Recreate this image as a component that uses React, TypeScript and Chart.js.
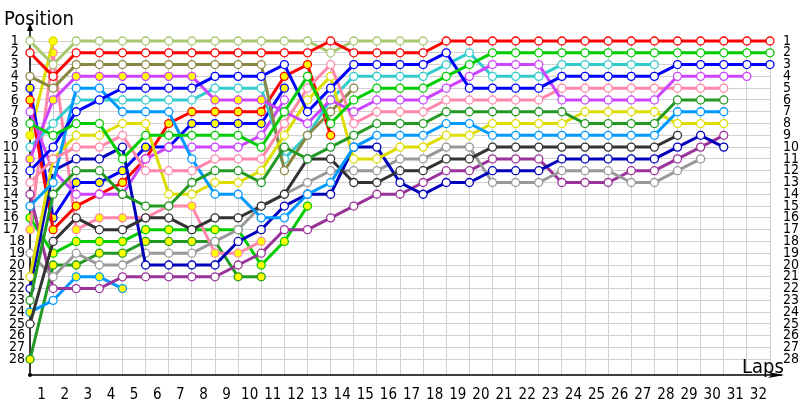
import React, { useEffect, useRef } from "react";
import { Chart, registerables } from "chart.js";
Chart.register(...registerables);

// ---- axis labels ----
const LAP_LABELS = ["1","2","3","4","5","6","7","8","9","10","11","12","13","14","15","16","17","18","19","20","21","22","23","24","25","26","27","28","29","30","31","32"];
const POSITION_LABELS = [1,2,3,4,5,6,7,8,9,10,11,12,13,14,15,16,17,18,19,20,21,22,23,24,25,26,27,28];

// ---- positions by lap (index 0 = grid, index n = after lap n) ----
const red = [2,4,2,2,2,2,2,2,2,2,2,2,2,1,2,2,2,2,1,1,1,1,1,1,1,1,1,1,1,1,1,1,1];
const green = [8,9,8,8,11,9,9,9,9,9,10,7,4,8,6,5,5,5,4,3,2,2,2,2,2,2,2,2,2,2,2,2,2];
const blue = [12,10,7,6,5,5,5,5,4,4,4,3,7,5,3,3,3,3,2,5,5,5,5,4,4,4,4,4,3,3,3,3,3];
const violet = [11,6,4,4,4,4,4,4,6,6,6,7,8,6,7,6,6,6,5,4,3,3,3,6,6,6,6,6,4,4,4,4];
const pink = [13,11,10,10,9,12,12,12,11,11,11,8,5,3,8,7,7,7,6,6,6,6,6,5,5,5,5,5,5,5,5];
const darkGreen = [23,14,12,12,14,15,15,13,12,12,13,10,11,10,9,8,8,8,7,7,7,7,7,7,8,8,8,8,6,6,6];
const lightBlue = [15,13,5,5,7,7,7,11,14,14,16,16,14,13,10,9,9,9,8,8,9,9,9,9,9,9,9,9,7,7,7];
const yellow = [21,11,9,9,8,8,14,14,13,13,12,9,6,4,11,11,10,10,9,9,8,8,8,8,7,7,7,7,8,8,8];
const black = [25,18,16,17,17,16,16,17,16,16,15,14,11,11,13,13,12,12,11,11,10,10,10,10,10,10,10,10,9];
const navy = [22,12,11,11,10,20,20,20,20,18,17,15,14,14,10,10,13,14,13,13,12,12,12,11,11,11,11,11,10,9,10];
const gray = [19,21,19,20,20,19,19,19,18,17,15,14,13,12,12,12,11,11,10,10,13,13,13,12,12,12,13,13,12,11];
const darkPurple = [14,22,22,22,21,21,21,21,21,20,19,17,17,16,15,14,14,13,12,12,11,11,11,13,13,13,12,12,11,10,9];
const lightGreen = [1,3,1,1,1,1,1,1,1,1,1,1,1,2,1,1,1,1];
const olive = [4,5,3,3,3,3,3,3,3,3,3,12,9,7,5];
const cyan = [10,8,6,6,6,6,6,6,5,5,5,11,9,6,4,4,4,4,3,2,4,4,4,3,3,3,3,3];
const violet2 = [7,12,14,14,14,11,10,10,10,10,9,6];
const red2 = [6,17,15,14,13,11,8,7,7,7,7,4,3,9];
const blue2 = [5,16,13,13,12,10,10,8,8,8,8,5];
const yellow2 = [9,1];
const pink2 = [17,2,17,16,16,16,15,15,19,19,18];
const green2 = [16,19,18,18,18,17,17,17,17,17,20,18,15];
const lightBlue2 = [24,23,21,21,22];
const darkGreen2 = [28,20,20,19,19,18,18,18,18,21,21];

// ---- laps drawn with a yellow marker ----
const violetYellow = [0,1,2,3,4,5,6,7,8,9,10];
const red2Yellow = [0,1,2,3,4,5,6,7,8,9,10,11,12,13];
const blue2Yellow = [0,1,2,3,4,5,6,7,8,9,10,11];
const yellow2Yellow = [0,1];
const pink2Yellow = [0,1,2,3,4,5,6,7,8,9,10];
const green2Yellow = [0,1,2,3,4,5,6,7,8,9,10,11,12];
const lightBlue2Yellow = [0,2,3,4];
const darkGreen2Yellow = [0,1,2,3,4,5,6,7,8,9,10];

const SERIES: [string, (number | null)[], number[]][] = [
  ["red", red, []],
  ["green", green, []],
  ["blue", blue, []],
  ["violet", violet, violetYellow],
  ["pink", pink, []],
  ["darkGreen", darkGreen, []],
  ["lightBlue", lightBlue, []],
  ["yellow", yellow, []],
  ["black", black, []],
  ["navy", navy, []],
  ["gray", gray, []],
  ["darkPurple", darkPurple, []],
  ["lightGreen", lightGreen, []],
  ["olive", olive, []],
  ["cyan", cyan, []],
  ["violet2", violet2, []],
  ["red2", red2, red2Yellow],
  ["blue2", blue2, blue2Yellow],
  ["yellow2", yellow2, yellow2Yellow],
  ["pink2", pink2, pink2Yellow],
  ["green2", green2, green2Yellow],
  ["lightBlue2", lightBlue2, lightBlue2Yellow],
  ["darkGreen2", darkGreen2, darkGreen2Yellow],
];

const COLORS: Record<string, string> = {
  red: "#ff0000",
  green: "#00cc00",
  blue: "#0000ff",
  violet: "#cc44ff",
  pink: "#ff88aa",
  darkGreen: "#229922",
  lightBlue: "#0099ff",
  yellow: "#dddd00",
  black: "#333333",
  navy: "#0000bb",
  gray: "#999999",
  darkPurple: "#993399",
  lightGreen: "#a8c870",
  olive: "#888844",
  cyan: "#33cccc",
  violet2: "#cc44ff",
  red2: "#ff0000",
  blue2: "#0000ff",
  yellow2: "#dddd00",
  pink2: "#ff88aa",
  green2: "#00cc00",
  lightBlue2: "#0099ff",
  darkGreen2: "#229922",
};

const FONT = '"DejaVu Sans Condensed", "Liberation Sans", sans-serif';

const decorations = {
  id: "decorations",
  beforeDatasetsDraw(chart: any) {
    const { ctx, chartArea: a } = chart;
    ctx.save();
    ctx.strokeStyle = "#000";
    ctx.lineWidth = 1.5;
    ctx.beginPath();
    ctx.moveTo(a.left, a.bottom);
    ctx.lineTo(a.left, 26);
    ctx.moveTo(a.left, a.bottom);
    ctx.lineTo(a.right + 12, a.bottom);
    ctx.stroke();
    ctx.fillStyle = "#000";
    ctx.beginPath();
    ctx.moveTo(a.left, 23);
    ctx.lineTo(a.left - 3, 31);
    ctx.lineTo(a.left + 3, 31);
    ctx.closePath();
    ctx.fill();
    ctx.beginPath();
    ctx.moveTo(a.right + 14, a.bottom);
    ctx.lineTo(a.right - 2, a.bottom - 3);
    ctx.lineTo(a.right + 2, a.bottom);
    ctx.lineTo(a.right - 2, a.bottom + 3);
    ctx.closePath();
    ctx.fill();
    ctx.beginPath();
    ctx.arc(a.left, a.bottom, 2, 0, Math.PI * 2);
    ctx.fill();
    ctx.restore();
  },
  afterDraw(chart: any) {
    const { ctx, chartArea: a } = chart;
    ctx.save();
    ctx.fillStyle = "#000";
    ctx.font = `20px ${FONT}`;
    ctx.textBaseline = "alphabetic";
    ctx.textAlign = "left";
    ctx.fillText("Position", 4, 25);
    ctx.fillText("Laps", a.right - 28, a.bottom - 2);
    ctx.restore();
  },
};

export default function App() {
  const ref = useRef<HTMLCanvasElement | null>(null);
  useEffect(() => {
    if (!ref.current) return;
    const datasets = SERIES.map(([name, pos, yel]) => {
      const data = pos.map((p, i) => ({ x: i, y: p }));
      const fills = pos.map((_, i) => (yel.includes(i) ? "#ffff00" : "#ffffff"));
      return {
        label: name,
        data,
        borderColor: COLORS[name],
        backgroundColor: COLORS[name],
        borderWidth: 3,
        pointRadius: 4,
        pointBorderWidth: 1.3,
        pointBorderColor: COLORS[name],
        pointBackgroundColor: fills,
        tension: 0,
        clip: false as any,
        spanGaps: false,
      };
    });
    const xFont = { family: FONT, size: 15 };
    const yFont = { family: FONT, size: 14 };
    const chart = new Chart(ref.current, {
      type: "line",
      data: { datasets },
      options: {
        animation: false,
        responsive: false,
        events: [],
        layout: { padding: { top: 41, left: 0, right: 0, bottom: 0 } },
        plugins: { legend: { display: false }, tooltip: { enabled: false } },
        scales: {
          x: {
            type: "linear",
            min: 0,
            max: 32,
            position: "bottom",
            ticks: { display: false, stepSize: 1 },
            grid: { color: "#d0d0d0", drawTicks: false, lineWidth: 1 },
            border: { display: false },
            afterFit: (s: any) => { s.height = 0; },
          },
          xl: {
            type: "linear",
            min: 0,
            max: 32,
            position: "bottom",
            grid: { display: false },
            border: { display: false },
            afterBuildTicks: (s: any) => { s.ticks = LAP_LABELS.map((_, i) => ({ value: i + 0.5 })); },
            ticks: {
              autoSkip: false,
              maxRotation: 0,
              padding: 3,
              color: "#000",
              font: xFont,
              callback: (_v: any, i: number) => LAP_LABELS[i],
            },
            afterFit: (s: any) => { s.height = 25; },
          },
          y: {
            type: "linear",
            reverse: true,
            min: 1,
            max: 29.33,
            position: "left",
            grid: { color: "#d0d0d0", drawTicks: false, lineWidth: 1 },
            border: { display: false },
            afterBuildTicks: (s: any) => { s.ticks = POSITION_LABELS.map((v) => ({ value: v })); },
            ticks: {
              autoSkip: false,
              padding: 5,
              color: "#000",
              font: yFont,
              callback: (v: any) => (v < 18 ? String(v) + "\u2002" : String(v)),
            },
            afterFit: (s: any) => { s.width = 30; },
          },
          y2: {
            type: "linear",
            reverse: true,
            min: 1,
            max: 29.33,
            position: "right",
            grid: { display: false },
            border: { display: false },
            afterBuildTicks: (s: any) => { s.ticks = POSITION_LABELS.map((v) => ({ value: v })); },
            ticks: {
              autoSkip: false,
              padding: 5,
              color: "#000",
              font: yFont,
              callback: (v: any) => String(v),
            },
            afterFit: (s: any) => { s.width = 30; },
          },
        },
      },
      plugins: [decorations],
    });
    return () => chart.destroy();
  }, []);
  return (
    <div style={{ position: "absolute", left: 0, top: 0, width: 800, height: 400, background: "#fff" }}>
      <canvas ref={ref} width={800} height={400} />
    </div>
  );
}
